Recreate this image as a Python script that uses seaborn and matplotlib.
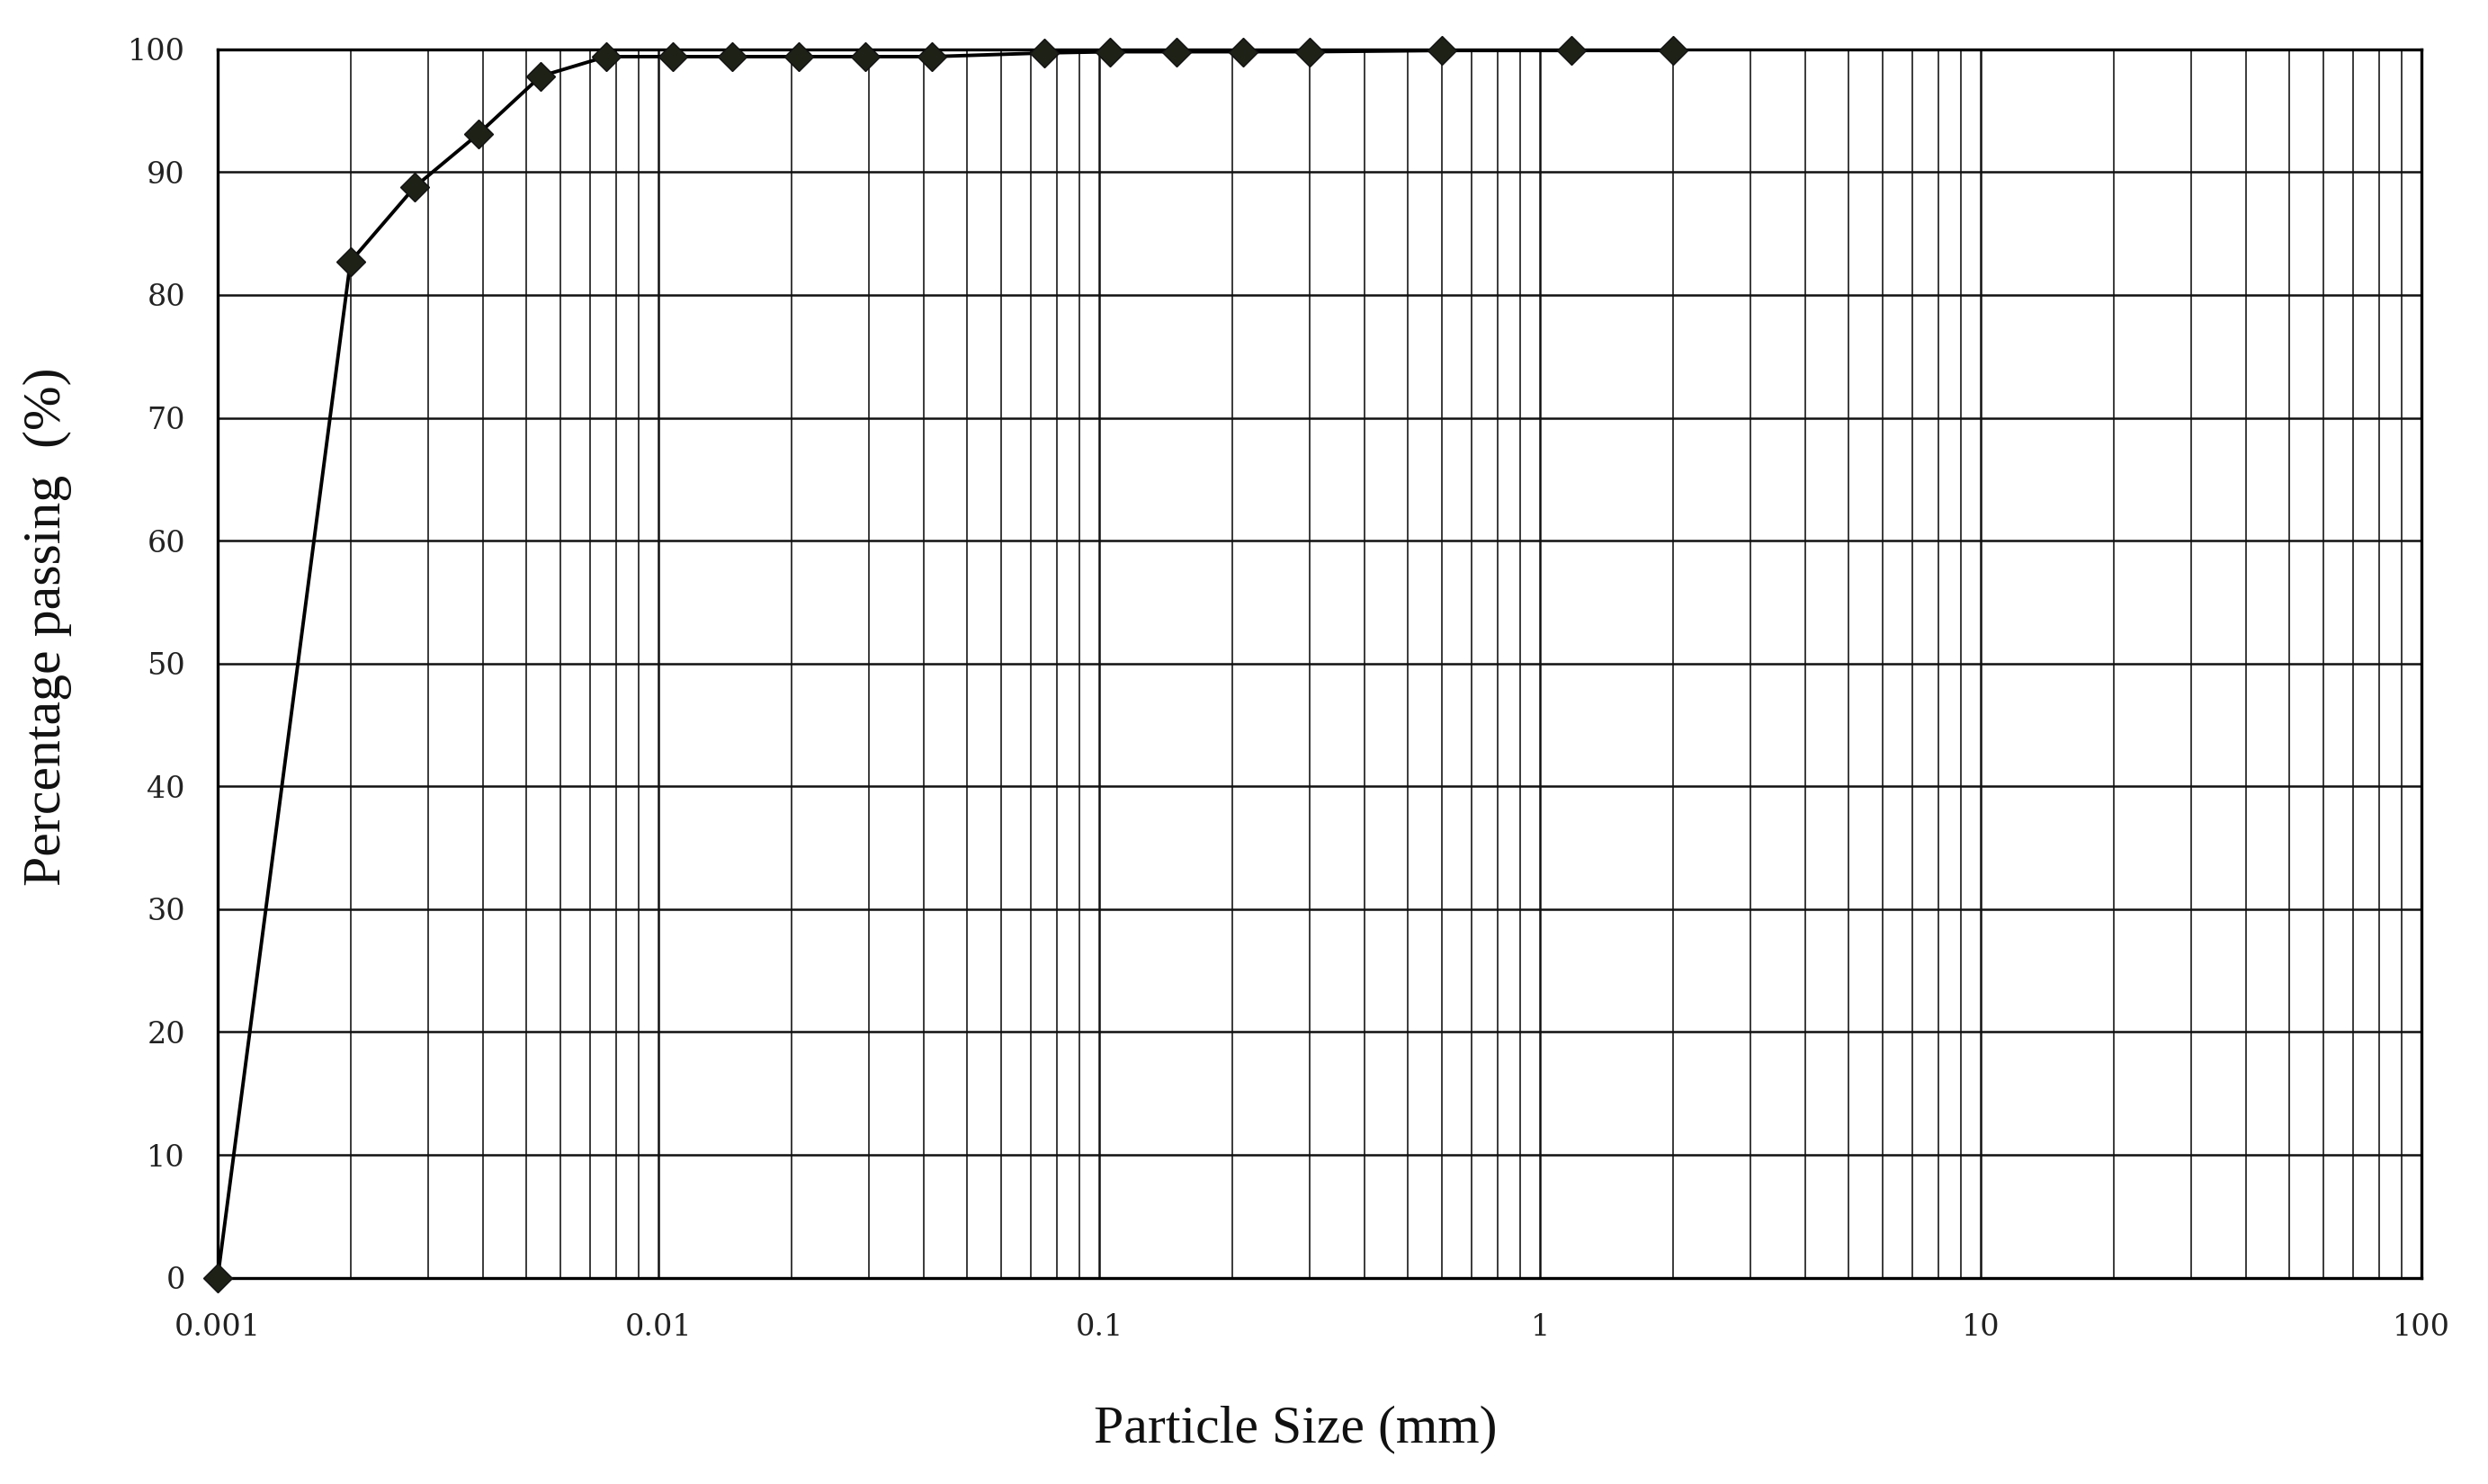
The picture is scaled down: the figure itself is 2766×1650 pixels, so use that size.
import matplotlib
matplotlib.use("Agg")
import matplotlib.pyplot as plt
import matplotlib.ticker as mticker
import seaborn as sns
import pandas as pd
import numpy as np

# sieve / hydrometer results
particle_size = [0.001, 0.002, 0.0028, 0.0039, 0.0054, 0.0076, 0.0108, 0.0147,
                 0.0208, 0.0294, 0.0417, 0.075, 0.106, 0.15, 0.212, 0.3,
                 0.6, 1.18, 2.0]
percent_passing = [0.0, 82.7, 88.8, 93.1, 97.8, 99.4, 99.4, 99.4,
                   99.4, 99.4, 99.4, 99.7, 99.8, 99.8, 99.8, 99.8,
                   99.9, 99.9, 99.9]

x_ticks = [0.001, 0.01, 0.1, 1, 10, 100]
x_tick_labels = ["0.001", "0.01", "0.1", "1", "10", "100"]
y_ticks = list(range(0, 101, 10))

df = pd.DataFrame({"size": particle_size, "passing": percent_passing})

sns.set_style("white")
fig = plt.figure(figsize=(27.66, 16.5), dpi=100)
ax = fig.add_axes([0.0875, 0.139, 0.8858, 0.8278])

sns.lineplot(data=df, x="size", y="passing", ax=ax, color="black", linewidth=2.8,
             marker="D", markersize=16, markerfacecolor="#1e2116",
             markeredgecolor="#111111", markeredgewidth=1.0, zorder=5,
             clip_on=False)

ax.set_xscale("log")
ax.set_xlim(0.001, 100)
ax.set_ylim(0, 100)

ax.xaxis.set_major_locator(mticker.FixedLocator(x_ticks))
ax.xaxis.set_major_formatter(mticker.FixedFormatter(x_tick_labels))
ax.xaxis.set_minor_locator(mticker.LogLocator(base=10, subs=np.arange(2, 10)))
ax.xaxis.set_minor_formatter(mticker.NullFormatter())
ax.set_yticks(y_ticks)

# grid: every decade subdivision and every 10 %
ax.grid(True, which="major", axis="both", color="#111111", linewidth=1.8)
ax.grid(True, which="minor", axis="x", color="#3a3a3a", linewidth=1.4)

for s in ax.spines.values():
    s.set_color("black")
    s.set_linewidth(2.4)

ax.tick_params(axis="both", which="major", direction="out", length=12, width=2,
               color="black", labelsize=24, labelcolor="#222222")
ax.tick_params(axis="x", which="major", pad=16)
ax.tick_params(axis="y", which="major", pad=14)
ax.tick_params(axis="x", which="minor", length=0)
for lbl in ax.get_xticklabels() + ax.get_yticklabels():
    lbl.set_family("DejaVu Serif")

ax.set_xlabel("Particle Size (mm)", fontsize=43, family="Liberation Serif",
              color="#111111")
ax.set_ylabel("Percentage passing  (%)", fontsize=43, family="Liberation Serif",
              color="#111111")
ax.xaxis.set_label_coords(0.489, -0.104)
ax.yaxis.set_label_coords(-0.066, 0.53)

fig.savefig("out.png", dpi=100, facecolor="white")
